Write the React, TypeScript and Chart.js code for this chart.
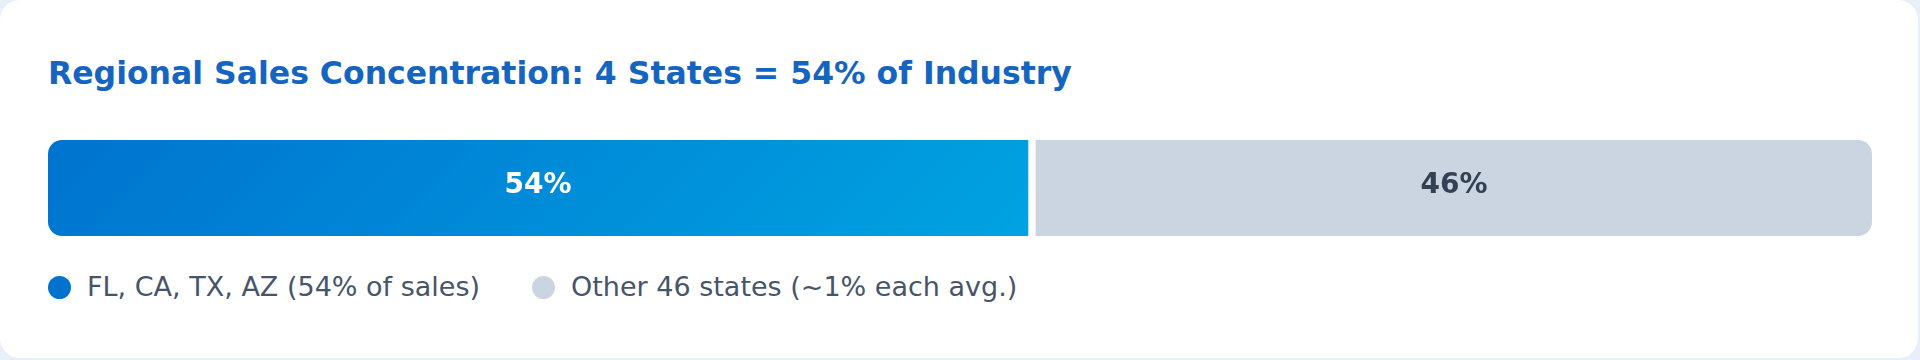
import React, { useEffect, useRef } from "react";
import { Chart, registerables } from "chart.js";

Chart.register(...registerables);

// ---- data ----
const categories = ["Share of industry sales"];
const seriesLabels = ["FL, CA, TX, AZ (54% of sales)", "Other 46 states (~1% each avg.)"];
const topStatesShare = [54];
const otherStatesShare = [46];
const valueLabels = ["54%", "46%"];
const titleText = "Regional Sales Concentration: 4 States = 54% of Industry";

const FONT = '"DejaVu Sans", "Noto Sans", sans-serif';
const BLUE_START = "#0073cf";
const BLUE_END = "#00a3e1";
const GREY = "#cbd5e1";
const GAP_BLUE = 5;
const GAP_GREY = 3;
const RADIUS = 14;

function blueGradient(context: any) {
  const chart = context.chart;
  const area = chart.chartArea;
  if (!area || !chart.scales || !chart.scales.x) return BLUE_START;
  const x0 = chart.scales.x.getPixelForValue(0);
  const x1 = chart.scales.x.getPixelForValue(topStatesShare[0]);
  const y0 = area.top;
  const y1 = area.bottom;
  const w = x1 - x0;
  const h = y1 - y0;
  const a = (135 * Math.PI) / 180;
  const dx = Math.sin(a);
  const dy = -Math.cos(a);
  const len = Math.abs(w * Math.sin(a)) + Math.abs(h * Math.cos(a));
  const cx = x0 + w / 2;
  const cy = y0 + h / 2;
  const g = chart.ctx.createLinearGradient(
    cx - (dx * len) / 2,
    cy - (dy * len) / 2,
    cx + (dx * len) / 2,
    cy + (dy * len) / 2
  );
  g.addColorStop(0, BLUE_START);
  g.addColorStop(1, BLUE_END);
  return g;
}

const labelPlugin = {
  id: "barValueLabels",
  afterDatasetsDraw(chart: any) {
    const c = chart.ctx;
    chart.data.datasets.forEach((_ds: any, di: number) => {
      const meta = chart.getDatasetMeta(di);
      meta.data.forEach((el: any) => {
        const { x, base, y } = el.getProps(["x", "base", "y"], true);
        const left = Math.min(x, base) + (di === 1 ? GAP_GREY : 0);
        const right = Math.max(x, base) - (di === 0 ? GAP_BLUE : 0);
        c.save();
        c.font = `bold 28px ${FONT}`;
        c.fillStyle = di === 0 ? "#ffffff" : "#334155";
        c.textAlign = "center";
        c.textBaseline = "alphabetic";
        c.fillText(valueLabels[di], (left + right) / 2, y + 5);
        c.restore();
      });
    });
  },
};

function BarChart() {
  const ref = useRef<HTMLCanvasElement | null>(null);
  useEffect(() => {
    if (!ref.current) return;
    const chart = new Chart(ref.current, {
      type: "bar",
      data: {
        labels: categories,
        datasets: [
          {
            label: seriesLabels[0],
            data: topStatesShare,
            backgroundColor: blueGradient as any,
            borderColor: "#ffffff",
            borderWidth: { top: 0, left: 0, bottom: 0, right: GAP_BLUE } as any,
            borderSkipped: false,
            borderRadius: { topLeft: RADIUS, bottomLeft: RADIUS, topRight: 0, bottomRight: 0 },
            barPercentage: 1,
            categoryPercentage: 1,
          },
          {
            label: seriesLabels[1],
            data: otherStatesShare,
            backgroundColor: GREY,
            borderColor: "#ffffff",
            borderWidth: { top: 0, left: GAP_GREY, bottom: 0, right: 0 } as any,
            borderSkipped: false,
            borderRadius: { topLeft: 0, bottomLeft: 0, topRight: RADIUS, bottomRight: RADIUS },
            barPercentage: 1,
            categoryPercentage: 1,
          },
        ],
      },
      options: {
        indexAxis: "y",
        responsive: false,
        animation: false,
        layout: { padding: 0 },
        plugins: {
          legend: { display: false },
          title: { display: false },
          tooltip: { enabled: false },
        },
        scales: {
          x: { stacked: true, display: false, min: 0, max: 100 },
          y: { stacked: true, display: false },
        },
      },
      plugins: [labelPlugin],
    });
    return () => chart.destroy();
  }, []);
  return <canvas ref={ref} width={1824} height={96} style={{ width: 1824, height: 96, display: "block" }} />;
}

export default function App() {
  useEffect(() => {
    document.body.style.margin = "0";
    document.body.style.background = "#e8eff9";
  }, []);
  const dotColors = [BLUE_START, GREY];
  return (
    <div style={{ position: "relative", width: 1920, height: 360, background: "#e8eff9", overflow: "hidden", fontFamily: FONT }}>
      <div
        style={{
          position: "absolute",
          left: 0,
          top: 0,
          width: 1918,
          height: 358,
          background: "#ffffff",
          borderRadius: 20,
        }}
      >
        <div
          style={{
            position: "absolute",
            left: 48,
            top: 53,
            fontSize: 31.5,
            fontWeight: "bold",
            lineHeight: "40px",
            color: "#1565c0",
            whiteSpace: "nowrap",
          }}
        >
          {titleText}
        </div>
        <div style={{ position: "absolute", left: 48, top: 140, width: 1824, height: 96 }}>
          <BarChart />
        </div>
        <div
          style={{
            position: "absolute",
            left: 48,
            top: 271,
            height: 32,
            display: "flex",
            alignItems: "center",
            whiteSpace: "nowrap",
          }}
        >
          {seriesLabels.map((s, i) => (
            <div key={s} style={{ display: "flex", alignItems: "center", marginRight: i === 0 ? 52 : 0 }}>
              <span
                style={{
                  display: "inline-block",
                  width: 23,
                  height: 23,
                  borderRadius: "50%",
                  background: dotColors[i],
                  marginRight: 16,
                  flex: "none",
                }}
              />
              <span style={{ fontSize: 27, lineHeight: "32px", color: "#475569" }}>{s}</span>
            </div>
          ))}
        </div>
      </div>
    </div>
  );
}
